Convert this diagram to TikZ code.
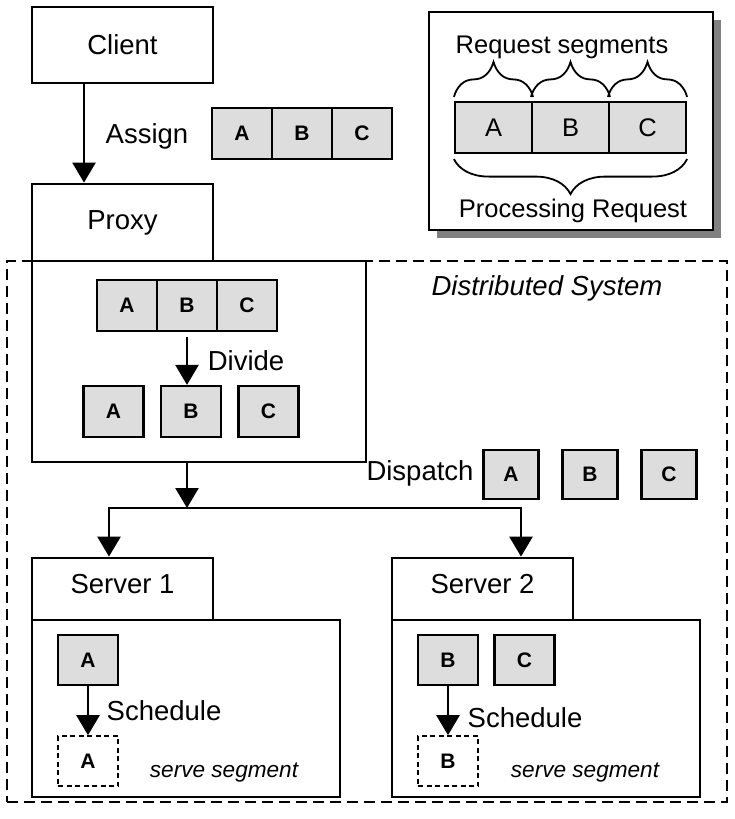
\documentclass[tikz,border=0pt]{standalone}
\usepackage{fontspec}
\setmainfont{Liberation Sans}
\usetikzlibrary{arrows.meta}
\usetikzlibrary{decorations.pathreplacing}
\usetikzlibrary{shadows}
\definecolor{segfill}{RGB}{221,221,221}
\definecolor{shadowgray}{RGB}{128,128,128}
\newcommand{\lblfont}{\fontsize{27.5}{30}\selectfont}
\newcommand{\segfont}{\fontsize{21}{23}\selectfont\bfseries}
\newcommand{\keyfont}{\fontsize{25.5}{28}\selectfont}
\newcommand{\notefont}{\fontsize{22.6}{25}\selectfont\itshape}
\tikzset{
  box/.style={draw, line width=2.8pt, fill=white, inner sep=0pt},
  seg/.style={draw, line width=2.2pt, fill=segfill, inner sep=0pt, minimum width=60pt, minimum height=51pt, font=\segfont},
  ghost/.style={seg, fill=white, line width=1.6pt, dash pattern=on 5pt off 3.5pt},
  lbl/.style={font=\lblfont, inner sep=0pt, anchor=base},
  note/.style={font=\notefont, inner sep=0pt, anchor=base},
  flow/.style={line width=2.6pt, -{Triangle[width=23pt,length=20pt]}},
  curly/.style={decorate, decoration={brace, amplitude=35pt, raise=#1}, line width=1.8pt},
}

\begin{document}
\begin{tikzpicture}[x=1pt, y=-1pt]
\useasboundingbox (0,0) rectangle (735,819);
\node[draw, line width=2.7pt, dash pattern=on 11pt off 6pt, inner sep=0pt, minimum width=720pt, minimum height=541pt] (system) at (367,531.5) {};
\node[lbl, font=\lblfont\itshape] (syslbl) at (547,295) {Distributed System};

\node[box, line width=2.4pt, minimum width=284pt, minimum height=218pt, drop shadow={shadow xshift=8pt, shadow yshift=-8pt, fill=shadowgray, opacity=1}] (legend) at (571,121) {};
\foreach \s [count=\i] in {A,B,C} {
  \node[seg, minimum width=77pt, font=\keyfont] (key\s) at (416.5+77*\i,127.5) {\s};
  \draw[curly=4pt] (key\s.north west) -- (key\s.north east);
}
\draw[curly=5pt] (keyC.south east) -- (keyA.south west);
\node[lbl, font=\keyfont] (reqlbl) at (562,53) {Request segments};
\node[lbl, font=\keyfont] (proclbl) at (573,217) {Processing Request};

\node[box, minimum width=181pt, minimum height=76pt, font=\lblfont] (client) at (122.5,45) {Client};
\node[lbl] (assignlbl) at (147,143) {Assign};
\foreach \s [count=\i] in {A,B,C}
  \node[seg] (asg\s) at (182+60*\i,133.5) {\s};

\node[box, minimum width=181pt, minimum height=77pt] (proxytab) at (122.5,222.5) {};
\node[box, minimum width=334pt, minimum height=201pt] (proxybody) at (199,361.5) {};
\node[lbl] (proxylbl) at (122.5,229) {Proxy};
\foreach \s [count=\i] in {A,B,C}
  \node[seg] (whole\s) at (67+60*\i,305.5) {\s};
\foreach \s [count=\i] in {A,B,C}
  \node[seg] (part\s) at (36+77.5*\i,411.5) {\s};
\node[lbl] (dividelbl) at (246,370) {Divide};

\node[lbl] (dispatchlbl) at (420,480) {Dispatch};
\foreach \s [count=\i] in {A,B,C}
  \node[seg, minimum width=55pt, minimum height=49pt] (sent\s) at (432+79*\i,474.5) {\s};

\node[box, minimum width=181pt, minimum height=62pt] (s1tab) at (122.5,589) {};
\node[box, minimum width=308pt, minimum height=177pt] (s1body) at (186,708.5) {};
\node[lbl] (s1lbl) at (122.5,593) {Server 1};
\node[seg, minimum height=50pt] (s1A) at (88,660) {A};
\node[ghost, minimum height=50pt] (s1done) at (88,761) {A};
\node[lbl] (sched1) at (164,720) {Schedule};
\node[note] (serve1) at (224,777) {serve segment};

\node[box, minimum width=181pt, minimum height=62pt] (s2tab) at (482.5,589) {};
\node[box, minimum width=308pt, minimum height=177pt] (s2body) at (546,708.5) {};
\node[lbl] (s2lbl) at (482.5,593) {Server 2};
\node[seg, minimum height=50pt] (s2B) at (448,660) {B};
\node[seg, minimum height=50pt] (s2C) at (524.5,660) {C};
\node[ghost, minimum height=50pt] (s2done) at (448,761) {B};
\node[lbl] (sched2) at (525,727) {Schedule};
\node[note] (serve2) at (585,777) {serve segment};

\draw[flow] ([xshift=-38.5pt]client.south) -- ([xshift=-38.5pt]proxytab.north);
\draw[flow, shorten <=5pt] (wholeB.south) -- (wholeB.south |- partB.north);
\coordinate (split) at (187,508);
\draw[flow] (proxybody.south -| split) -- (split);
\draw[flow] (split) -| ([xshift=-13.5pt]s1tab.north);
\draw[flow] (split) -| ([xshift=38.5pt]s2tab.north);
\draw[flow] (s1A) -- (s1done);
\draw[flow] (s2B) -- (s2done);
\end{tikzpicture}
\end{document}
